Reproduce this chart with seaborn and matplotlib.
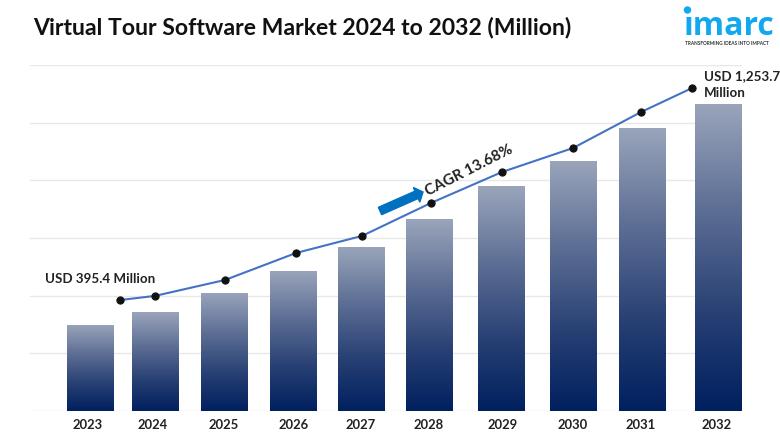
import numpy as np
import pandas as pd
import matplotlib
matplotlib.use("Agg")
import matplotlib.pyplot as plt
from matplotlib.colors import LinearSegmentedColormap
from matplotlib.patches import FancyArrow, Circle
import seaborn as sns

years = ["2023", "2024", "2025", "2026", "2027", "2028", "2029", "2030", "2031", "2032"]
bar_values = [373, 429, 512, 607, 711, 832, 975, 1084, 1227, 1331]
line_values = [481, 499, 568, 685, 759, 902, 1036, 1140, 1296, 1400]
bar_pos = [60, 125, 194, 263, 331, 399, 471, 543, 612, 688]
line_pos = [90, 125, 195, 266, 332, 401, 472, 543, 611, 662]
label_pos = [58, 123, 194, 264, 331, 399, 473, 543, 611, 687]

W, H = 780, 440
sns.set_theme(style="white")
plt.rcParams["font.family"] = ["Lato", "DejaVu Sans"]

fig = plt.figure(figsize=(W / 100, H / 100), dpi=100, facecolor="white")
ax = fig.add_axes([30 / W, 1 - 411 / H, 712 / W, 346 / H])
ax.set_xlim(0, 712)
ax.set_ylim(0, 1500)

df = pd.DataFrame({"pos": bar_pos, "value": bar_values})
sns.barplot(data=df, x="pos", y="value", native_scale=True, width=0.71, color="#203a70",
            ax=ax, zorder=2, errorbar=None)
ax.set_xlim(0, 712)
ax.set_ylim(0, 1500)

cmap = LinearSegmentedColormap.from_list("g", ["#9aa5bb", "#5f7096", "#2a4275", "#00205f"])
grad = np.linspace(0, 1, 256).reshape(-1, 1)
for bar in list(ax.patches):
    x0, w, h = bar.get_x(), bar.get_width(), bar.get_height()
    bar.set_facecolor("none")
    bar.set_edgecolor("none")
    im = ax.imshow(grad, cmap=cmap, extent=[x0, x0 + w, 0, h], aspect="auto", zorder=3, origin="upper")
    im.set_clip_path(bar)
ax.set_xlim(0, 712)
ax.set_ylim(0, 1500)

sns.lineplot(x=line_pos, y=line_values, ax=ax, color="#4472c4", linewidth=1.5, zorder=4,
             marker="o", markersize=5.2, markerfacecolor="#111111", markeredgecolor="#111111",
             errorbar=None)

ax.set_yticks(np.arange(0, 1501, 250))
ax.set_yticklabels([])
ax.yaxis.grid(True, color="#e8e8e8", linewidth=1.0)
ax.xaxis.grid(False)
ax.set_axisbelow(True)
ax.set_xticks(label_pos)
ax.set_xticklabels(years, fontsize=9.4, fontweight="bold", color="#222222")
ax.tick_params(axis="x", length=0, pad=6)
ax.tick_params(axis="y", length=0)
ax.set_xlabel("")
ax.set_ylabel("")
for s in ax.spines.values():
    s.set_visible(False)


def px(x, y):
    return x / W, 1 - y / H


def label(x, y, s, **kw):
    fig.text(*px(x, y), s, transform=fig.transFigure, **kw)


label(33, 27, "Virtual Tour Software Market 2024 to 2032 (Million)", fontsize=16.55,
      fontweight="bold", color="#111111", va="center", ha="left")
label(45, 279, "USD 395.4 Million", fontsize=9.6, fontweight="bold", color="#222222", va="center")
label(704, 76, "USD 1,253.7", fontsize=9.6, fontweight="bold", color="#222222", va="center")
label(704, 93, "Million", fontsize=9.6, fontweight="bold", color="#222222", va="center")
label(428, 196, "CAGR 13.68%", fontsize=10.9, fontweight="bold", color="#222222", va="baseline",
      ha="left", rotation=27, rotation_mode="anchor")

x0, y0 = px(380, 211)
x1, y1 = px(423, 192)
fig.add_artist(FancyArrow(x0 * W, y0 * H, (x1 - x0) * W, (y1 - y0) * H, width=8, head_width=16,
                          head_length=7, length_includes_head=True, color="#0070c0",
                          transform=None))

# logo
label(684, 35, "\u0131marc", fontsize=23, fontweight="bold", color="#12a8f0", va="baseline", ha="left",
      family=["Open Sans", "DejaVu Sans"])
cx, cy = px(687.5, 10)
fig.add_artist(Circle((cx * W, cy * H), 3, color="#12a8f0", transform=None))
label(685, 43.5, "TRANSFORMING IDEAS INTO IMPACT", fontsize=3.4, fontweight="bold", color="#333333",
      va="center", ha="left")

fig.savefig("out.png", dpi=100, facecolor="white")
